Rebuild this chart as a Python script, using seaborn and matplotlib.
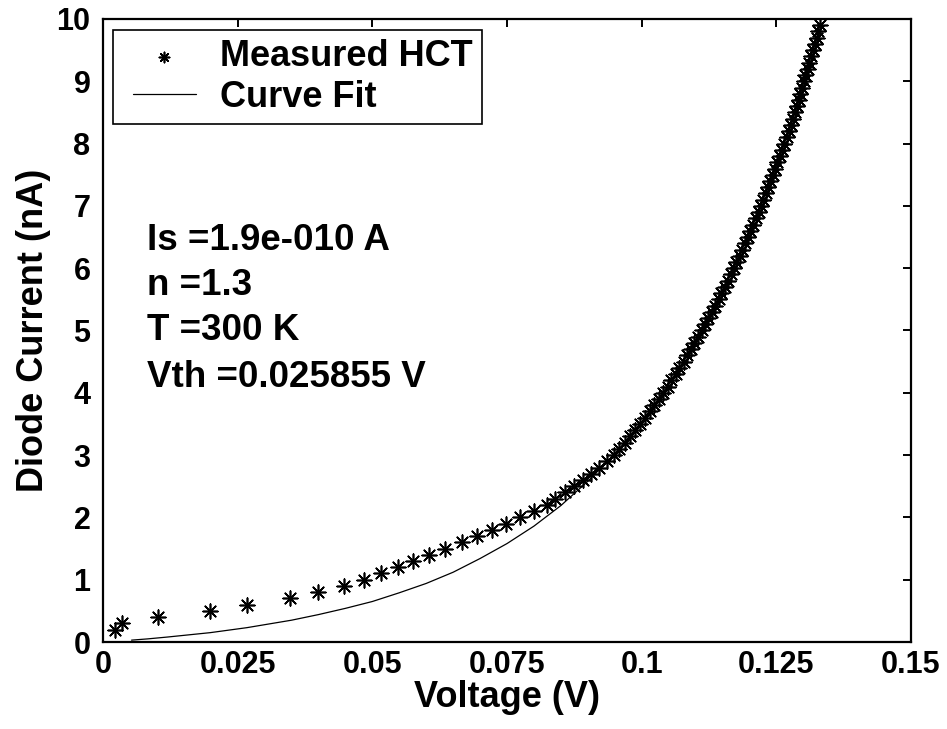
import matplotlib
matplotlib.use("Agg")
import matplotlib.pyplot as plt
from matplotlib.legend_handler import HandlerLine2D, HandlerPathCollection
from matplotlib.collections import PathCollection
from matplotlib.lines import Line2D
import seaborn as sns
import numpy as np

# ---------------- data ----------------
meas_current_nA = [0.2, 0.3, 0.4, 0.5, 0.6, 0.7, 0.8, 0.9, 1.0, 1.1, 1.2, 1.3, 1.4, 1.5,
                   1.6, 1.7, 1.8, 1.9, 2.0, 2.1, 2.2, 2.3, 2.4, 2.5, 2.6, 2.7, 2.8, 2.9,
                   3.0, 3.1, 3.2, 3.3, 3.4, 3.5, 3.6, 3.7, 3.8, 3.9, 4.0, 4.1, 4.2, 4.3,
                   4.4, 4.5, 4.6, 4.7, 4.8, 4.9, 5.0, 5.1, 5.2, 5.3, 5.4, 5.5, 5.6, 5.7,
                   5.8, 5.9, 6.0, 6.1, 6.2, 6.3, 6.4, 6.5, 6.6, 6.7, 6.8, 6.9, 7.0, 7.1,
                   7.2, 7.3, 7.4, 7.5, 7.6, 7.7, 7.8, 7.9, 8.0, 8.1, 8.2, 8.3, 8.4, 8.5,
                   8.6, 8.7, 8.8, 8.9, 9.0, 9.1, 9.2, 9.3, 9.4, 9.5, 9.6, 9.7, 9.8, 9.9]
meas_voltage_V = [0.0022, 0.0035, 0.0103, 0.0199, 0.0267, 0.0347, 0.0400, 0.0447, 0.0485,
                  0.0517, 0.0548, 0.0575, 0.0605, 0.0634, 0.0666, 0.0695, 0.0722, 0.0748,
                  0.0775, 0.0800, 0.0824, 0.0839, 0.0858, 0.0874, 0.0892, 0.0906, 0.0921,
                  0.0935, 0.0948, 0.0958, 0.0969, 0.0978, 0.0988, 0.0997, 0.1006, 0.1015,
                  0.1023, 0.1032, 0.1040, 0.1048, 0.1055, 0.1063, 0.1070, 0.1078, 0.1085,
                  0.1092, 0.1098, 0.1105, 0.1112, 0.1118, 0.1124, 0.1131, 0.1137, 0.1143,
                  0.1148, 0.1154, 0.1160, 0.1165, 0.1171, 0.1176, 0.1182, 0.1187, 0.1192,
                  0.1197, 0.1202, 0.1207, 0.1212, 0.1217, 0.1221, 0.1226, 0.1230, 0.1235,
                  0.1239, 0.1244, 0.1248, 0.1252, 0.1257, 0.1261, 0.1265, 0.1269, 0.1273,
                  0.1277, 0.1281, 0.1285, 0.1289, 0.1292, 0.1294, 0.1297, 0.1301, 0.1304,
                  0.1308, 0.1311, 0.1315, 0.1318, 0.1322, 0.1325, 0.1328, 0.1331]

fit_voltage_V = [0.0053, 0.0083, 0.0120, 0.0199, 0.0267, 0.0350, 0.0400, 0.0450, 0.0500,
                 0.0550, 0.0600, 0.0650, 0.0700, 0.0750, 0.0800, 0.0850, 0.0900, 0.0950,
                 0.1000, 0.1050, 0.1100, 0.1150, 0.1200, 0.1250, 0.1300, 0.1330]
fit_current_nA = [0.03, 0.05, 0.08, 0.15, 0.23, 0.35, 0.44, 0.54, 0.65, 0.79, 0.94, 1.12,
                  1.34, 1.58, 1.86, 2.19, 2.58, 3.02, 3.53, 4.13, 4.82, 5.63, 6.56, 7.64,
                  8.90, 9.75]

x_ticks = [0, 0.025, 0.05, 0.075, 0.1, 0.125, 0.15]
x_tick_labels = ["0", "0.025", "0.05", "0.075", "0.1", "0.125", "0.15"]
y_ticks = [0, 1, 2, 3, 4, 5, 6, 7, 8, 9, 10]

annotations = ["Is =1.9e-010 A", "n =1.3", "T =300 K", "Vth =0.025855 V"]
annotation_y = [6.29, 5.57, 4.84, 4.10]

# ---------------- style ----------------
sns.set_style("white")
plt.rcParams["font.family"] = ["Liberation Sans", "DejaVu Sans"]
plt.rcParams["font.weight"] = "bold"
plt.rcParams["axes.labelweight"] = "bold"
plt.rcParams["text.color"] = "black"
plt.rcParams["axes.labelcolor"] = "black"
plt.rcParams["xtick.color"] = "black"
plt.rcParams["ytick.color"] = "black"

fig = plt.figure(figsize=(9.47, 7.29), dpi=100)
fig.patch.set_facecolor("white")
ax = fig.add_axes([0.10877, 0.11934, 0.85322, 0.8546])

sns.scatterplot(x=meas_voltage_V, y=meas_current_nA, marker=(8, 2, 0), s=110,
                color="black", linewidth=1.2, ax=ax, label="Measured HCT", zorder=3)
sns.lineplot(x=fit_voltage_V, y=fit_current_nA, color="black", linewidth=0.9,
             sort=False, estimator=None, ax=ax, label="Curve Fit", zorder=2)

ax.set_xlim(0, 0.15)
ax.set_ylim(0, 10)
ax.set_xticks(x_ticks)
ax.set_xticklabels(x_tick_labels)
ax.set_yticks(y_ticks)
ax.set_yticklabels([str(v) for v in y_ticks])

for s in ax.spines.values():
    s.set_visible(True)
    s.set_linewidth(1.6)
    s.set_color("black")

ax.tick_params(axis="both", direction="in", length=6, width=1.4, top=True, right=True,
               labelsize=22, colors="black")
ax.tick_params(axis="x", pad=6)
ax.tick_params(axis="y", pad=9)

ax.set_xlabel("Voltage (V)", fontsize=26, fontweight="bold", labelpad=0)
ax.set_ylabel("Diode Current (nA)", fontsize=26, fontweight="bold", labelpad=4)

for txt, yy in zip(annotations, annotation_y):
    ax.text(0.0082, yy, txt, fontsize=26.5, fontweight="bold", ha="left", va="baseline",
            color="black")

handles, labels = ax.get_legend_handles_labels()
leg = ax.legend(handles, labels, loc="upper left", bbox_to_anchor=(0.0124, 0.982),
                borderaxespad=0, fontsize=26, frameon=True, fancybox=False,
                edgecolor="black", framealpha=1, handlelength=2.05, handletextpad=0.66,
                borderpad=0.25, labelspacing=0.16, markerscale=0.7,
                handler_map={Line2D: HandlerLine2D(xpad=0.3),
                             PathCollection: HandlerPathCollection(xpad=0.3)})
leg.get_frame().set_linewidth(1.2)
for t in leg.get_texts():
    t.set_fontweight("bold")

fig.savefig("out.png", dpi=100, facecolor="white")
